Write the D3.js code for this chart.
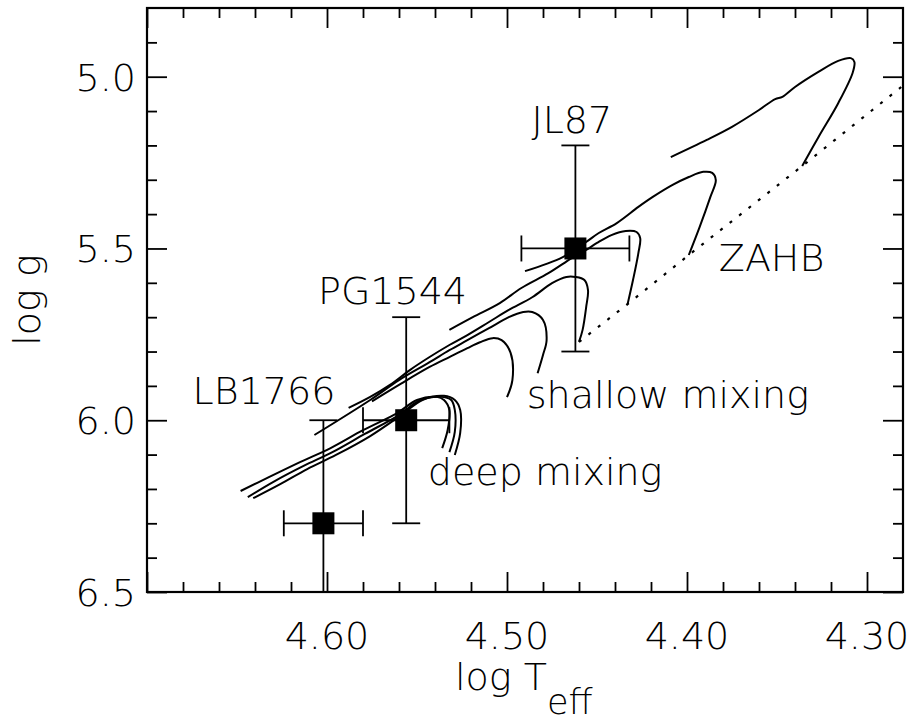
<!DOCTYPE html>
<html>
<head>
<meta charset="utf-8">
<script src="https://cdn.jsdelivr.net/npm/d3@7"></script>
<style>
  body { margin: 0; background: #fff; }
  svg text { font-family: "DejaVu Sans", sans-serif; font-weight: 200; fill: #000; }
</style>
</head>
<body>
<div id="chart"></div>
<script>
// axis ticks
const xMajor = [4.70, 4.60, 4.50, 4.40, 4.30];
const xLabels = ["4.60", "4.50", "4.40", "4.30"];
const yMajor = [5.0, 5.5, 6.0, 6.5];
const yLabels = ["5.0", "5.5", "6.0", "6.5"];

// observed stars: logT, logg, errors
const stars = [
  { name: "LB1766", t: 4.602, g: 6.30, dt: 0.022, dg: 0.30 },
  { name: "PG1544", t: 4.556, g: 6.00, dt: 0.024, dg: 0.30 },
  { name: "JL87",   t: 4.462, g: 5.50, dt: 0.030, dg: 0.30 }
];

// zero age horizontal branch (dotted)
const zahb = [[4.460, 5.772], [4.433, 5.662], [4.399, 5.519], [4.336, 5.260], [4.281, 5.030]];

// evolutionary tracks, [logT, logg]
const track1 = [[4.460, 5.772], [4.458, 5.737], [4.456, 5.670], [4.455, 5.621], [4.457, 5.592], [4.462, 5.583],
  [4.467, 5.583], [4.475, 5.601], [4.486, 5.642], [4.499, 5.679], [4.510, 5.714], [4.522, 5.752], [4.532, 5.781],
  [4.543, 5.816], [4.554, 5.854], [4.565, 5.897], [4.576, 5.932], [4.588, 5.964]];
const track2 = [[4.433, 5.662], [4.430, 5.592], [4.427, 5.513], [4.426, 5.470], [4.428, 5.452], [4.434, 5.449],
  [4.442, 5.461], [4.450, 5.484], [4.456, 5.504], [4.464, 5.528], [4.477, 5.572], [4.492, 5.615], [4.504, 5.659],
  [4.519, 5.700], [4.532, 5.737]];
const track3 = [[4.399, 5.519], [4.393, 5.438], [4.387, 5.350], [4.384, 5.301], [4.386, 5.280], [4.391, 5.277],
  [4.399, 5.292], [4.408, 5.315], [4.419, 5.350], [4.427, 5.379], [4.439, 5.426], [4.449, 5.455], [4.456, 5.481],
  [4.469, 5.525], [4.490, 5.566]];
const track4 = [[4.336, 5.260], [4.327, 5.176], [4.316, 5.077], [4.308, 4.989], [4.307, 4.957], [4.309, 4.946],
  [4.316, 4.954], [4.327, 4.986], [4.340, 5.030], [4.347, 5.059], [4.351, 5.065], [4.360, 5.097], [4.375, 5.146],
  [4.389, 5.184], [4.409, 5.234]];
const shallow1 = [[4.483, 5.863], [4.480, 5.810], [4.478, 5.767], [4.480, 5.708], [4.486, 5.685], [4.491, 5.685],
  [4.499, 5.700], [4.510, 5.732], [4.522, 5.767], [4.532, 5.796], [4.543, 5.831], [4.560, 5.883], [4.576, 5.941],
  [4.607, 6.043]];
const shallow2 = [[4.500, 5.933], [4.497, 5.883], [4.498, 5.804], [4.503, 5.767], [4.508, 5.761], [4.515, 5.773],
  [4.522, 5.790], [4.532, 5.816], [4.543, 5.845], [4.560, 5.897], [4.575, 5.945]];
const deep1 = [[4.536, 6.081], [4.533, 6.029], [4.532, 5.970], [4.535, 5.941], [4.539, 5.932], [4.550, 5.941],
  [4.561, 5.979], [4.580, 6.029], [4.598, 6.081], [4.615, 6.122], [4.632, 6.165], [4.648, 6.206]];
const deep2 = [[4.532, 6.093], [4.529, 6.034], [4.529, 5.970], [4.531, 5.941], [4.537, 5.932], [4.549, 5.944],
  [4.560, 5.985], [4.579, 6.040], [4.597, 6.093], [4.613, 6.133], [4.630, 6.180], [4.644, 6.224]];
const deep3 = [[4.529, 6.101], [4.526, 6.037], [4.526, 5.970], [4.529, 5.941], [4.535, 5.929], [4.547, 5.941],
  [4.558, 5.982], [4.576, 6.046], [4.595, 6.101], [4.611, 6.142], [4.626, 6.186], [4.641, 6.227]];
const tracks = [track1, track2, track3, track4, shallow1, shallow2, deep1, deep2, deep3];

// text labels placed at data positions
const notes = [
  { text: "JL87", t: 4.464, g: 5.165, anchor: "middle" },
  { text: "PG1544", t: 4.5636, g: 5.662, anchor: "middle" },
  { text: "LB1766", t: 4.635, g: 5.953, anchor: "middle" },
  { text: "ZAHB", t: 4.353, g: 5.567, anchor: "middle" },
  { text: "shallow mixing", t: 4.489, g: 5.965, anchor: "start" },
  { text: "deep mixing", t: 4.544, g: 6.188, anchor: "start" }
];

const W = 916, H = 725;
const x = d3.scaleLinear().domain([4.70, 4.28]).range([147, 903]);
const y = d3.scaleLinear().domain([4.80, 6.50]).range([8, 592]);

const svg = d3.select("#chart").append("svg").attr("width", W).attr("height", H);

svg.append("clipPath").attr("id", "plotclip").append("rect")
  .attr("x", 147).attr("y", 8).attr("width", 756).attr("height", 584);

const minorX = d3.range(4.30, 4.70, 0.02).map(v => +v.toFixed(2)).filter(v => !xMajor.includes(v));
const minorY = d3.range(4.9, 6.5, 0.1).map(v => +v.toFixed(1)).filter(v => !yMajor.includes(v));

function tickAxis(gen, scale, values, size, transform) {
  const g = svg.append("g").attr("transform", transform)
    .call(gen(scale).tickValues(values).tickSize(size).tickFormat(""));
  g.select(".domain").remove();
  g.selectAll("line").attr("stroke", "#000").attr("stroke-width", 1.8);
  return g;
}
tickAxis(d3.axisBottom, x, xMajor, -20, "translate(0,592)");
tickAxis(d3.axisBottom, x, minorX, -10, "translate(0,592)");
tickAxis(d3.axisTop, x, xMajor, -20, "translate(0,8)");
tickAxis(d3.axisTop, x, minorX, -10, "translate(0,8)");
tickAxis(d3.axisLeft, y, yMajor, -20, "translate(147,0)");
tickAxis(d3.axisLeft, y, minorY, -10, "translate(147,0)");
tickAxis(d3.axisRight, y, yMajor, -20, "translate(903,0)");
tickAxis(d3.axisRight, y, minorY, -10, "translate(903,0)");

svg.append("rect").attr("x", 147).attr("y", 8).attr("width", 756).attr("height", 584)
  .attr("fill", "none").attr("stroke", "#000").attr("stroke-width", 2.2);

// tick labels
svg.append("g").selectAll("text").data(xLabels).join("text")
  .attr("x", d => x(+d)).attr("y", 649)
  .attr("text-anchor", "middle").attr("font-size", 38).text(d => d);
svg.append("g").selectAll("text").data(yLabels).join("text")
  .attr("x", 136).attr("y", d => y(+d) + 14)
  .attr("text-anchor", "end").attr("font-size", 38).text(d => d);

// axis titles
const xt = svg.append("text").attr("x", 455).attr("y", 690).attr("font-size", 38);
xt.append("tspan").text("log T");
xt.append("tspan").attr("dy", 24).attr("font-size", 35).text("eff");
svg.append("text").attr("transform", "translate(40,300) rotate(-90)")
  .attr("text-anchor", "middle").attr("font-size", 38).text("log g");

const plot = svg.append("g").attr("clip-path", "url(#plotclip)");
const line = d3.line().x(d => x(d[0])).y(d => y(d[1])).curve(d3.curveCatmullRom.alpha(0.5));

plot.append("path").datum(zahb)
  .attr("d", d3.line().x(d => x(d[0])).y(d => y(d[1])))
  .attr("fill", "none").attr("stroke", "#000").attr("stroke-width", 2.2)
  .attr("stroke-dasharray", "3,9");

plot.selectAll("path.track").data(tracks).join("path").attr("class", "track")
  .attr("d", line).attr("fill", "none").attr("stroke", "#000").attr("stroke-width", 2);

// error bars
const eb = plot.selectAll("g.star").data(stars).join("g").attr("class", "star")
  .attr("stroke", "#000").attr("stroke-width", 1.8);
eb.append("line").attr("x1", d => x(d.t)).attr("x2", d => x(d.t))
  .attr("y1", d => y(d.g - d.dg)).attr("y2", d => y(d.g + d.dg));
eb.append("line").attr("x1", d => x(d.t + d.dt)).attr("x2", d => x(d.t - d.dt))
  .attr("y1", d => y(d.g)).attr("y2", d => y(d.g));
[-1, 1].forEach(s => {
  eb.append("line").attr("x1", d => x(d.t) - 14).attr("x2", d => x(d.t) + 14)
    .attr("y1", d => y(d.g + s * d.dg)).attr("y2", d => y(d.g + s * d.dg));
  eb.append("line").attr("x1", d => x(d.t + s * d.dt)).attr("x2", d => x(d.t + s * d.dt))
    .attr("y1", d => y(d.g) - 13).attr("y2", d => y(d.g) + 13);
});
plot.selectAll("rect.sq").data(stars).join("rect").attr("class", "sq")
  .attr("x", d => x(d.t) - 11).attr("y", d => y(d.g) - 11)
  .attr("width", 22).attr("height", 22).attr("fill", "#000");

svg.append("g").selectAll("text").data(notes).join("text")
  .attr("x", d => x(d.t)).attr("y", d => y(d.g))
  .attr("text-anchor", d => d.anchor).attr("font-size", 38).text(d => d.text);
</script>
</body>
</html>
